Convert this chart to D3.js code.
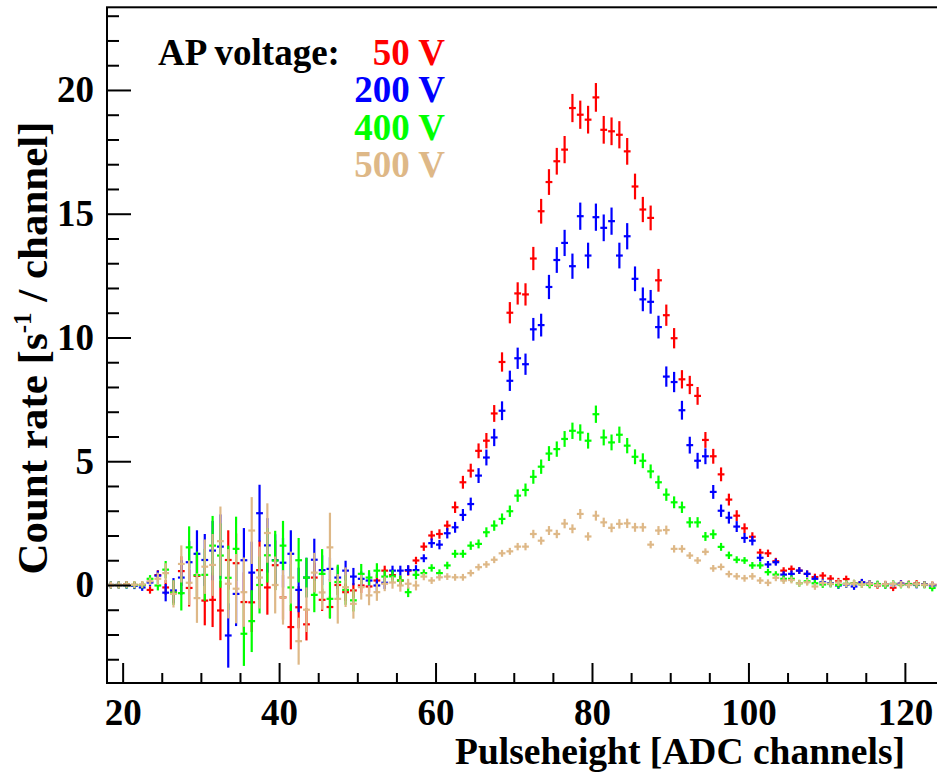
<!DOCTYPE html>
<html>
<head>
<meta charset="utf-8">
<script src="https://cdn.jsdelivr.net/npm/d3@7"></script>
<style>
  body { margin: 0; background: #fff; }
  svg text { font-family: "Liberation Serif", "Times New Roman", serif; font-weight: bold; }
</style>
</head>
<body>
<svg id="chart" width="937" height="773"></svg>
<script>
// Bin centres of the pulse-height histogram (ADC channels 18..125, width 1)
const channels = d3.range(18.5, 125, 1);

// Count rate per channel [1/s] and its statistical error, one pair per AP voltage
const rate50 = [
  0.00, 0.00, 0.02, 0.00, 0.00, -0.20, 0.40, -0.10, -0.30, 0.56,
  -0.12, 0.37, -0.63, -0.60, -1.03, 1.01, 0.88, -0.69, -0.70, 0.60,
  -0.10, 0.80, -0.50, -1.70, -0.90, -1.59, 0.30, -0.60, -0.89, 0.00,
  -0.29, -0.22, -0.02, -0.06, 0.18, 0.58, 0.40, 0.18, 0.58, 0.99,
  1.55, 2.00, 2.06, 2.40, 3.14, 4.15, 4.62, 5.42, 5.83, 6.93,
  9.01, 11.00, 11.78, 11.74, 13.19, 15.10, 16.28, 17.12, 17.59, 19.27,
  19.00, 18.80, 19.70, 18.39, 18.33, 18.19, 17.52, 16.10, 15.17, 14.83,
  12.31, 10.90, 9.97, 8.31, 8.08, 7.64, 5.86, 5.20, 4.47, 3.45,
  2.80, 2.29, 1.95, 1.31, 1.28, 0.96, 0.58, 0.65, 0.58, 0.45,
  0.32, 0.38, 0.26, 0.15, 0.24, 0.07, 0.10, 0.05, -0.02, 0.03,
  -0.11, 0.05, 0.04, 0.06, 0.02, 0.00, 0.02
];
const err50 = [
  0.03, 0.03, 0.05, 0.05, 0.08, 0.15, 0.20, 0.30, 0.45, 0.60,
  0.75, 0.85, 1.00, 1.10, 1.20, 1.20, 1.20, 1.20, 1.20, 1.20,
  1.10, 1.00, 0.90, 0.90, 0.85, 0.65, 0.60, 0.45, 0.45, 0.40,
  0.35, 0.30, 0.30, 0.25, 0.25, 0.20, 0.20, 0.20, 0.20, 0.15,
  0.17, 0.19, 0.19, 0.20, 0.23, 0.26, 0.28, 0.30, 0.31, 0.34,
  0.39, 0.43, 0.45, 0.45, 0.47, 0.50, 0.52, 0.54, 0.55, 0.57,
  0.57, 0.56, 0.58, 0.56, 0.56, 0.55, 0.54, 0.52, 0.51, 0.50,
  0.46, 0.43, 0.41, 0.37, 0.37, 0.36, 0.32, 0.30, 0.28, 0.24,
  0.22, 0.20, 0.18, 0.15, 0.15, 0.13, 0.12, 0.12, 0.12, 0.11,
  0.10, 0.10, 0.10, 0.10, 0.10, 0.10, 0.09, 0.09, 0.09, 0.09,
  0.09, 0.09, 0.08, 0.08, 0.08, 0.08, 0.08
];

const rate200 = [
  0.00, 0.00, -0.01, -0.03, -0.10, 0.10, 0.38, -0.31, -0.22, 0.30,
  0.92, 1.26, 1.01, 1.39, 1.55, -2.04, -0.36, 1.00, 0.50, 2.90,
  1.60, 1.00, 0.90, 1.26, -0.20, 0.30, 1.02, 0.60, 0.65, 0.30,
  0.58, 0.34, 0.25, 0.18, -0.02, 0.09, 0.58, 0.58, 0.60, 0.60,
  1.08, 1.69, 1.63, 2.09, 2.33, 2.83, 3.27, 4.42, 5.15, 5.96,
  7.04, 8.25, 9.16, 8.92, 10.33, 10.50, 12.04, 13.13, 13.82, 12.88,
  14.90, 13.31, 14.86, 14.43, 14.70, 13.31, 14.09, 12.37, 11.54, 11.44,
  10.42, 8.42, 8.20, 7.06, 5.65, 5.02, 5.20, 3.76, 3.00, 2.72,
  2.36, 1.90, 1.79, 1.10, 0.83, 0.92, 0.42, 0.45, 0.58, 0.45,
  0.25, 0.11, 0.07, -0.02, 0.02, -0.06, 0.11, 0.06, 0.02, 0.00,
  0.03, 0.05, 0.02, 0.00, 0.02, -0.02, 0.00
];
const err200 = [
  0.03, 0.03, 0.05, 0.05, 0.08, 0.15, 0.20, 0.35, 0.50, 0.70,
  0.85, 0.95, 1.05, 1.20, 1.30, 1.30, 1.30, 1.30, 1.25, 1.15,
  1.10, 1.05, 1.00, 0.95, 0.90, 0.80, 0.85, 0.60, 0.47, 0.45,
  0.40, 0.35, 0.30, 0.30, 0.25, 0.25, 0.20, 0.20, 0.20, 0.20,
  0.16, 0.19, 0.19, 0.21, 0.22, 0.24, 0.26, 0.30, 0.32, 0.35,
  0.38, 0.41, 0.43, 0.43, 0.46, 0.46, 0.49, 0.52, 0.53, 0.51,
  0.55, 0.52, 0.55, 0.54, 0.55, 0.52, 0.53, 0.50, 0.48, 0.48,
  0.46, 0.41, 0.41, 0.38, 0.34, 0.32, 0.32, 0.28, 0.25, 0.24,
  0.22, 0.20, 0.19, 0.15, 0.14, 0.14, 0.12, 0.12, 0.12, 0.11,
  0.10, 0.10, 0.10, 0.10, 0.10, 0.10, 0.09, 0.09, 0.09, 0.09,
  0.09, 0.09, 0.08, 0.08, 0.08, 0.08, 0.08
];

const rate400 = [
  0.00, 0.00, 0.00, 0.00, 0.00, 0.25, -0.02, 0.62, -0.31, -0.33,
  1.52, 0.40, 0.41, 1.59, 1.19, 0.29, 1.46, -1.97, -1.46, 0.00,
  1.20, 0.99, 1.59, -0.10, 1.00, 0.30, -0.40, 0.45, -0.56, 0.12,
  -0.20, -0.62, 0.45, 0.30, 0.58, 0.34, 0.35, 0.18, -0.29, 0.41,
  0.48, 0.69, 0.48, 0.79, 1.26, 1.26, 1.59, 1.66, 2.13, 2.40,
  2.67, 2.98, 3.61, 3.84, 4.37, 4.78, 5.31, 5.49, 5.90, 6.23,
  6.16, 5.83, 6.90, 5.96, 5.76, 6.07, 5.63, 5.18, 5.02, 4.59,
  4.15, 3.65, 3.34, 3.14, 2.53, 2.53, 1.96, 2.05, 1.54, 1.20,
  1.02, 0.99, 0.79, 0.79, 0.52, 0.42, 0.25, 0.25, 0.07, 0.15,
  0.07, 0.02, 0.04, 0.00, 0.05, 0.07, 0.02, 0.00, 0.04, -0.02,
  0.05, 0.00, 0.03, 0.02, 0.00, -0.12, -0.05
];
const err400 = [
  0.03, 0.03, 0.05, 0.05, 0.08, 0.15, 0.20, 0.35, 0.50, 0.70,
  0.85, 0.95, 1.05, 1.20, 1.30, 1.30, 1.30, 1.30, 1.25, 1.15,
  1.10, 1.20, 1.00, 0.95, 0.90, 0.80, 0.70, 1.00, 0.80, 0.70,
  0.60, 0.45, 0.40, 0.30, 0.30, 0.25, 0.25, 0.20, 0.20, 0.18,
  0.15, 0.15, 0.15, 0.15, 0.16, 0.16, 0.17, 0.18, 0.20, 0.21,
  0.22, 0.23, 0.25, 0.26, 0.28, 0.29, 0.30, 0.31, 0.32, 0.33,
  0.33, 0.32, 0.35, 0.32, 0.32, 0.33, 0.31, 0.30, 0.30, 0.28,
  0.27, 0.25, 0.24, 0.23, 0.21, 0.21, 0.18, 0.19, 0.16, 0.15,
  0.14, 0.13, 0.12, 0.12, 0.10, 0.10, 0.09, 0.09, 0.08, 0.08,
  0.08, 0.08, 0.08, 0.08, 0.08, 0.08, 0.08, 0.08, 0.08, 0.08,
  0.08, 0.08, 0.08, 0.08, 0.08, 0.08, 0.08
];

const rate500 = [
  0.00, 0.00, 0.02, 0.01, 0.02, 0.15, 0.25, 0.48, -0.36, 0.85,
  0.09, -0.53, 0.74, 0.81, 1.77, 0.05, -0.15, -0.29, 2.20, 0.30,
  2.10, 0.00, -0.50, 0.30, -2.27, -1.00, 0.50, -0.30, 1.52, -0.56,
  -0.09, -0.76, -0.09, -0.42, -0.29, 0.05, 0.10, -0.02, 0.05, -0.02,
  0.34, 0.18, 0.31, 0.34, 0.31, 0.31, 0.48, 0.72, 0.83, 1.02,
  1.28, 1.36, 1.55, 1.55, 2.06, 1.79, 2.20, 2.06, 2.48, 2.27,
  2.87, 1.96, 2.80, 2.53, 2.31, 2.47, 2.49, 2.33, 2.33, 1.63,
  2.20, 2.22, 1.46, 1.46, 1.19, 0.99, 1.34, 0.67, 0.73, 0.44,
  0.35, 0.27, 0.35, 0.18, 0.09, 0.29, 0.18, 0.20, 0.07, 0.11,
  -0.06, 0.08, 0.05, 0.10, 0.04, 0.06, 0.02, 0.05, 0.00, 0.03,
  0.04, 0.02, 0.00, 0.03, 0.01, 0.02, 0.00
];
const err500 = [
  0.03, 0.03, 0.05, 0.05, 0.08, 0.15, 0.25, 0.40, 0.55, 0.75,
  0.90, 1.00, 1.10, 1.25, 1.40, 1.40, 1.40, 1.40, 1.35, 1.25,
  1.20, 1.15, 1.10, 1.05, 0.95, 0.90, 0.80, 0.70, 1.40, 1.00,
  0.80, 0.60, 0.50, 0.40, 0.35, 0.30, 0.25, 0.25, 0.20, 0.20,
  0.15, 0.12, 0.12, 0.12, 0.12, 0.12, 0.12, 0.12, 0.12, 0.13,
  0.14, 0.14, 0.15, 0.15, 0.17, 0.16, 0.18, 0.17, 0.19, 0.18,
  0.20, 0.17, 0.20, 0.19, 0.18, 0.19, 0.19, 0.18, 0.18, 0.15,
  0.18, 0.18, 0.15, 0.15, 0.13, 0.12, 0.14, 0.10, 0.10, 0.08,
  0.08, 0.08, 0.08, 0.08, 0.08, 0.08, 0.08, 0.08, 0.08, 0.08,
  0.08, 0.08, 0.08, 0.08, 0.08, 0.08, 0.08, 0.08, 0.08, 0.08,
  0.08, 0.08, 0.08, 0.08, 0.08, 0.08, 0.08
];

// Legend entries (drawn in this order, which is also the drawing order)
const voltages = ["50 V", "200 V", "400 V", "500 V"];
const colors = ["#ff0000", "#0000ff", "#00ff00", "#deb887"];
const seriesRates = [rate50, rate200, rate400, rate500];
const seriesErrors = [err50, err200, err400, err500];

// Axis ticks
const xMajorTicks = [20, 40, 60, 80, 100, 120];
const yMajorTicks = [0, 5, 10, 15, 20];

const svg = d3.select("#chart");
svg.append("rect").attr("width", 937).attr("height", 773).attr("fill", "#fff");

const frame = { left: 107, right: 944, top: 7.3, bottom: 683 };
const x = d3.scaleLinear().domain([18, 125]).range([frame.left, frame.right]);
const y = d3.scaleLinear().domain([-3.96, 23.34]).range([frame.bottom, frame.top]);

const fontSize = 37;

// Error-bar crosses for each voltage
const armX = 3.4, armY = 3.4;
seriesRates.forEach((rates, s) => {
  const rows = channels.map((c, i) => ({ c, v: rates[i], e: seriesErrors[s][i] }));
  const g = svg.append("g")
    .attr("stroke", colors[s])
    .attr("stroke-width", 2.2)
    .attr("fill", "none");
  const pts = g.selectAll("g").data(rows).join("g");
  pts.append("line")
    .attr("x1", d => x(d.c)).attr("x2", d => x(d.c))
    .attr("y1", d => Math.min(y(d.v + d.e), y(d.v) - armY))
    .attr("y2", d => Math.max(y(d.v - d.e), y(d.v) + armY));
  pts.append("line")
    .attr("x1", d => x(d.c) - armX).attr("x2", d => x(d.c) + armX)
    .attr("y1", d => y(d.v)).attr("y2", d => y(d.v));
});

// Frame
svg.append("rect")
  .attr("x", frame.left).attr("y", frame.top)
  .attr("width", frame.right - frame.left).attr("height", frame.bottom - frame.top)
  .attr("fill", "none").attr("stroke", "#000").attr("stroke-width", 2);

// X axis: minor ticks every 5, major every 20 (ticks point into the frame)
const xMinor = d3.range(20, 125, 5).filter(v => v % 20 !== 0);
svg.append("g")
  .attr("transform", `translate(0,${frame.bottom})`)
  .call(d3.axisBottom(x).tickValues(xMinor).tickSize(-10).tickFormat(""))
  .call(g => g.select(".domain").remove())
  .call(g => g.selectAll("line").attr("stroke-width", 2));
svg.append("g")
  .attr("transform", `translate(0,${frame.bottom})`)
  .call(d3.axisBottom(x).tickValues(xMajorTicks).tickSize(-20).tickPadding(16).tickFormat(d3.format("d")))
  .call(g => g.select(".domain").remove())
  .call(g => g.selectAll("line").attr("stroke-width", 2))
  .call(g => g.selectAll("text").attr("font-size", fontSize).attr("fill", "#000")
    .attr("font-family", "Liberation Serif").attr("font-weight", "bold"));

// Y axis: minor ticks every 1, major every 5
const yMinor = d3.range(-3, 24, 1).filter(v => v % 5 !== 0);
svg.append("g")
  .attr("transform", `translate(${frame.left},0)`)
  .call(d3.axisLeft(y).tickValues(yMinor).tickSize(-12).tickFormat(""))
  .call(g => g.select(".domain").remove())
  .call(g => g.selectAll("line").attr("stroke-width", 2));
svg.append("g")
  .attr("transform", `translate(${frame.left},0)`)
  .call(d3.axisLeft(y).tickValues(yMajorTicks).tickSize(-24).tickPadding(13).tickFormat(d3.format("d")))
  .call(g => g.select(".domain").remove())
  .call(g => g.selectAll("line").attr("stroke-width", 2))
  .call(g => g.selectAll("text").attr("font-size", fontSize).attr("fill", "#000")
    .attr("font-family", "Liberation Serif").attr("font-weight", "bold"));

// Axis titles
svg.append("text")
  .attr("x", 905).attr("y", 764)
  .attr("text-anchor", "end")
  .attr("font-size", 37.5)
  .text("Pulseheight [ADC channels]");

const yTitle = svg.append("text")
  .attr("transform", "translate(47,348) rotate(-90)")
  .attr("text-anchor", "middle")
  .attr("font-size", 43);
yTitle.append("tspan").text("Count rate [s");
yTitle.append("tspan").attr("dy", -16).attr("font-size", 25).text("-1");
yTitle.append("tspan").attr("dy", 16).text(" / channel]");

// Legend
const legendSize = 37;
svg.append("text")
  .attr("x", 158).attr("y", 65)
  .attr("font-size", legendSize)
  .attr("fill", "#000")
  .text("AP voltage:");
svg.append("g").selectAll("text").data(voltages).join("text")
  .attr("x", 445)
  .attr("y", (d, i) => 65 + i * 37.3)
  .attr("text-anchor", "end")
  .attr("font-size", legendSize)
  .attr("fill", (d, i) => colors[i])
  .text(d => d);
</script>
</body>
</html>
